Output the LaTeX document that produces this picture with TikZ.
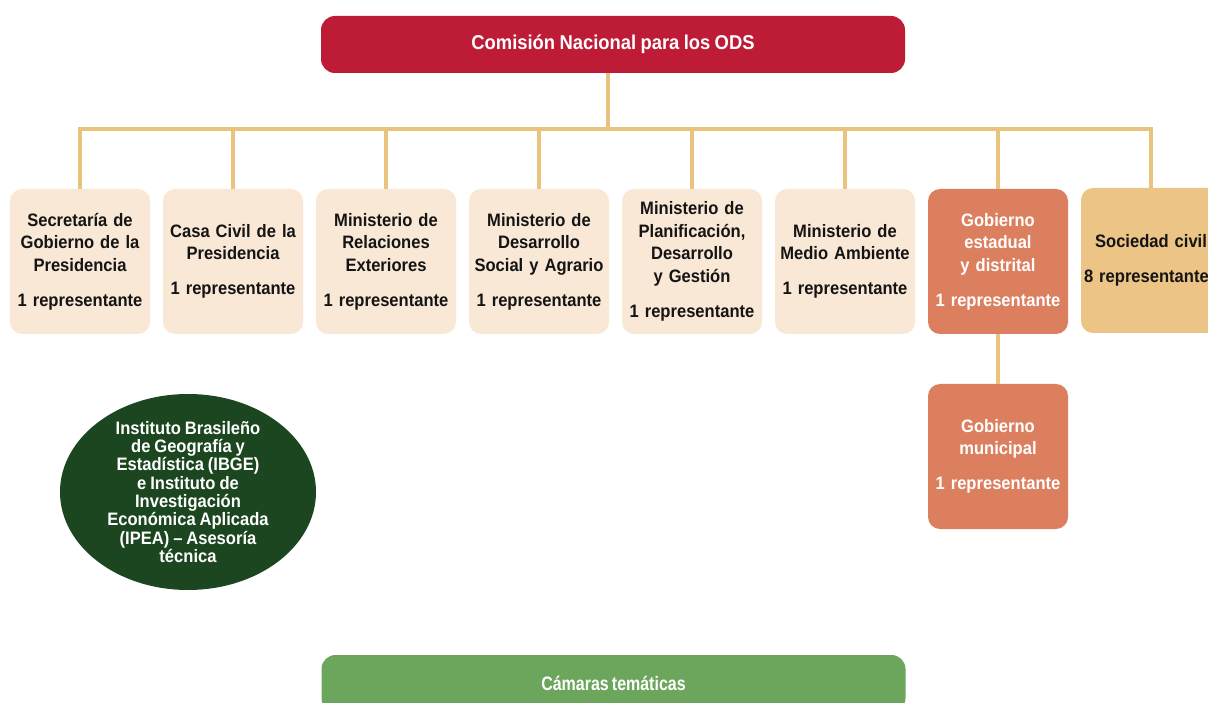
\documentclass[tikz,border=0pt]{standalone}
\usepackage{fontspec}
\setmainfont{Liberation Sans}[FakeStretch=0.92, WordSpace=0.85]
\newfontfamily\narrowfont{Liberation Sans}[FakeStretch=0.82, WordSpace=0.7]
\usetikzlibrary{positioning,shapes.geometric}
\definecolor{odsred}{RGB}{190,27,55}
\definecolor{linetan}{RGB}{234,196,127}
\definecolor{cream}{RGB}{248,232,213}
\definecolor{terracotta}{RGB}{220,127,95}
\definecolor{sand}{RGB}{236,196,133}
\definecolor{ibgegreen}{RGB}{28,70,32}
\definecolor{camgreen}{RGB}{107,166,92}
\definecolor{inkdark}{RGB}{20,20,20}

\tikzset{
  orgbox/.style={rounded corners=12pt, minimum width=140pt, minimum height=145pt,
    text width=138pt, align=center, inner sep=0pt,
    font=\bfseries\fontsize{18}{22.5}\selectfont},
  minbox/.style={orgbox, fill=cream, text=inkdark},
  govbox/.style={orgbox, fill=terracotta, text=white},
  civbox/.style={orgbox, fill=sand, text=inkdark},
  widebox/.style={rounded corners=14pt, minimum width=584pt, minimum height=57pt,
    inner sep=0pt, text=white},
  link/.style={draw=linetan, line width=4pt}
}

\begin{document}
\begin{tikzpicture}[x=1pt, y=-1pt]
  \useasboundingbox (0,0) rectangle (1208,703);
  \clip (0,0) rectangle (1208,703);

  % top and bottom bars
  \node[widebox, fill=odsred, font=\bfseries\fontsize{20}{24}\selectfont] (ods) at (613,44.5)
    {Comisión Nacional para los ODS};
  \node[widebox, fill=camgreen, font=\narrowfont\bfseries\fontsize{19.5}{22}\selectfont] (cam) at (613.5,683.5)
    {Cámaras temáticas};

  % members
  \foreach \n/\txt [count=\i from 0] in {
      sec/{Secretaría de\\Gobierno de la\\Presidencia},
      civ/{Casa Civil de la\\Presidencia},
      rel/{Ministerio de\\Relaciones\\Exteriores},
      des/{Ministerio de\\Desarrollo\\Social y Agrario},
      pla/{Ministerio de\\Planificación,\\Desarrollo\\y Gestión},
      amb/{Ministerio de\\Medio Ambiente}}
    \node[minbox] (\n) at ({80+153*\i},261.5) {\txt\\[12.5pt]1 representante};
  \node[govbox] (est) at (998,261.5) {Gobierno\\estadual\\y distrital\\[12.5pt]1 representante};
  \node[civbox] (soc) at (1151,260.5) {Sociedad civil\\[12.5pt]8 representantes};
  \node[govbox] (mun) at (998,456.5) {Gobierno\\municipal\\[12.5pt]1 representante};

  % advisory
  \node[ellipse, fill=ibgegreen, text=white, align=center, inner sep=-5pt,
    minimum width=256pt, minimum height=196pt,
    font=\bfseries\fontsize{18}{18.3}\selectfont] (ibge) at (188,492)
    {Instituto Brasileño\\de Geografía y\\Estadística (IBGE)\\e Instituto de\\Investigación\\Económica Aplicada\\(IPEA) -- Asesoría\\técnica};

  % connectors
  \coordinate (busL) at (80,129);
  \coordinate (busR) at (1151,129);
  \coordinate (stem) at (608,129);
  \draw[link] ([xshift=-2pt]busL) -- ([xshift=2pt]busR);
  \draw[link] (ods.south -| stem) -- (stem);
  \foreach \n in {sec,civ,rel,des,pla,amb,est,soc}
    \draw[link] (\n.north) -- (\n.north |- busL);
  \draw[link] (est.south) -- (mun.north);
\end{tikzpicture}
\end{document}
